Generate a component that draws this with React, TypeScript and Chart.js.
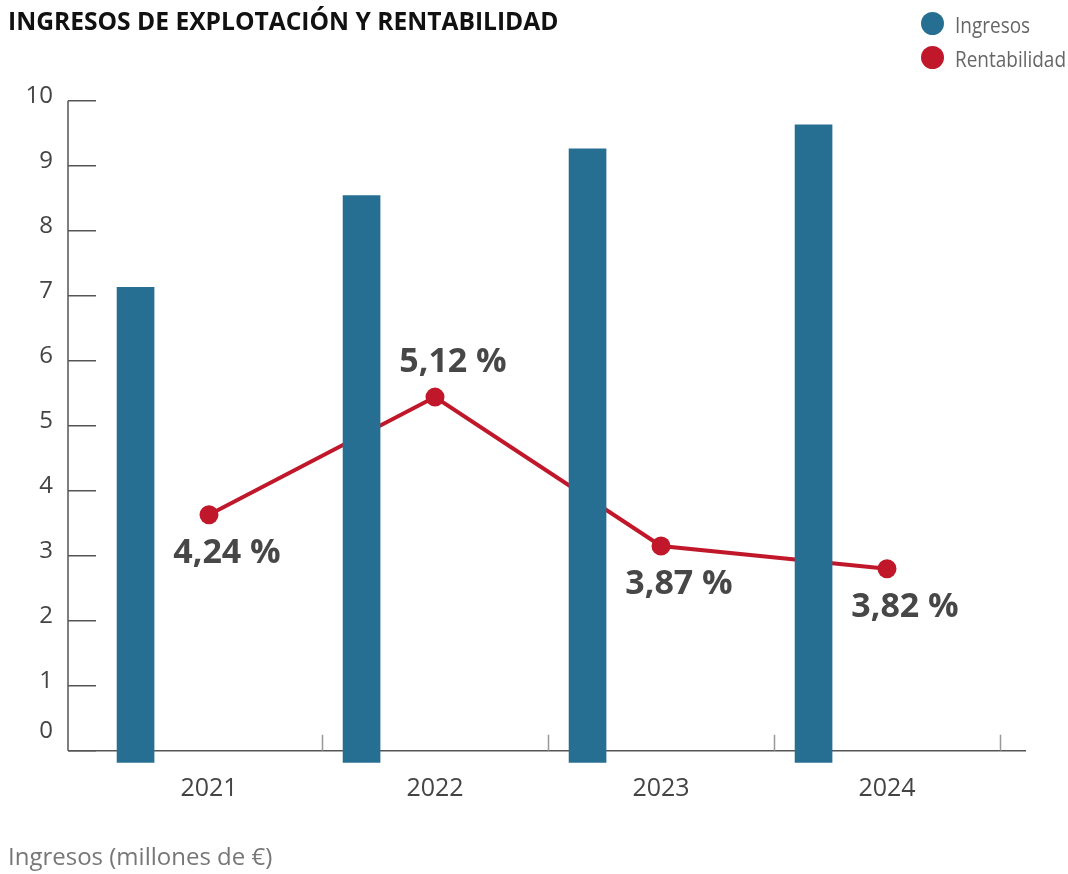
import { useEffect, useRef } from 'react';
import { Chart, registerables } from 'chart.js';

Chart.register(...registerables);

const years = ['2021', '2022', '2023', '2024'];
const ingresos = [7.13, 8.54, 9.26, 9.63];
const rentabilidadPos = [3.63, 5.44, 3.15, 2.8];
const rentabilidadLabels = ['4,24 %', '5,12 %', '3,87 %', '3,82 %'];
const yMin = 0;
const yMax = 10;

const TITLE = 'INGRESOS DE EXPLOTACIÓN Y RENTABILIDAD';
const FOOTNOTE = 'Ingresos (millones de €)';
const LEGEND = ['Ingresos', 'Rentabilidad'];

const BLUE = '#276f92';
const RED = '#c0182a';
const FONT = '"Open Sans", sans-serif';
const BAR_SHIFT = 0.325;

export default function App() {
  const ref = useRef<HTMLCanvasElement>(null);

  useEffect(() => {
    const decor = {
      id: 'decor',
      beforeDatasetsDraw(chart: any) {
        const { ctx, chartArea, scales } = chart;
        const ys = scales.y;
        const y0 = ys.getPixelForValue(0);
        const yTop = ys.getPixelForValue(yMax);
        const left = chartArea.left - 28;
        const right = chartArea.right + 26;
        ctx.save();
        ctx.strokeStyle = '#555';
        ctx.lineWidth = 1.5;
        ctx.beginPath();
        ctx.moveTo(left, yTop);
        ctx.lineTo(left, y0);
        ctx.moveTo(left, y0);
        ctx.lineTo(right, y0);
        ctx.stroke();
        const w = (chartArea.right - chartArea.left) / years.length;
        ctx.strokeStyle = '#999';
        ctx.beginPath();
        for (let i = 1; i <= years.length; i++) {
          const x = Math.round(chartArea.left + i * w) + 0.5;
          ctx.moveTo(x, y0 - 16);
          ctx.lineTo(x, y0);
        }
        ctx.stroke();
        ctx.restore();
      },
      afterDatasetsDraw(chart: any) {
        const { ctx } = chart;
        const meta = chart.getDatasetMeta(1);
        ctx.save();
        ctx.font = `700 34px ${FONT}`;
        ctx.fillStyle = '#474747';
        ctx.textAlign = 'center';
        ctx.textBaseline = 'alphabetic';
        meta.data.forEach((pt: any, i: number) => {
          const v = rentabilidadPos[i];
          const prev = i > 0 ? rentabilidadPos[i - 1] : -Infinity;
          const next = i < rentabilidadPos.length - 1 ? rentabilidadPos[i + 1] : -Infinity;
          const above = v > prev && v > next;
          const cy = above ? pt.y - 37 : pt.y + 36;
          ctx.fillText(rentabilidadLabels[i], pt.x + 18, cy + 12);
        });
        ctx.restore();
      },
      afterDraw(chart: any) {
        const { ctx } = chart;
        ctx.save();
        ctx.textBaseline = 'alphabetic';
        ctx.textAlign = 'left';
        ctx.font = `700 24.6px ${FONT}`;
        ctx.fillStyle = '#111';
        ctx.fillText(TITLE, 8, 30);

        ctx.font = `21px ${FONT}`;
        const colors = [BLUE, RED];
        const cys = [23.5, 57.5];
        const squeeze = 111 / ctx.measureText(LEGEND[1]).width;
        LEGEND.forEach((t, i) => {
          ctx.fillStyle = colors[i];
          ctx.beginPath();
          ctx.arc(932.5, cys[i], 11.5, 0, Math.PI * 2);
          ctx.fill();
          ctx.fillStyle = '#666';
          ctx.save();
          ctx.translate(955, cys[i] + 9);
          ctx.scale(squeeze, 1);
          ctx.fillText(t, 0, 0);
          ctx.restore();
        });

        ctx.font = `24px ${FONT}`;
        ctx.fillStyle = '#777';
        ctx.fillText(FOOTNOTE, 8, 865);
        ctx.restore();
      },
    };

    const xbMin = -0.5 + BAR_SHIFT;
    const xbMax = years.length - 0.5 + BAR_SHIFT;

    const chart = new Chart(ref.current as HTMLCanvasElement, {
      type: 'bar',
      data: {
        labels: years,
        datasets: [
          {
            type: 'bar',
            label: LEGEND[0],
            data: ingresos.map((v, i) => ({ x: i, y: v })) as any,
            xAxisID: 'xb',
            yAxisID: 'y',
            backgroundColor: BLUE,
            barThickness: 37,
            grouped: false,
            base: -0.18,
            clip: false as any,
            order: 0,
          } as any,
          {
            type: 'line',
            label: LEGEND[1],
            data: rentabilidadPos,
            xAxisID: 'x',
            yAxisID: 'y',
            borderColor: RED,
            backgroundColor: RED,
            borderWidth: 4,
            pointRadius: 9.5,
            pointBorderWidth: 0,
            pointBackgroundColor: RED,
            clip: false as any,
            order: 1,
          } as any,
        ],
      },
      options: {
        responsive: false,
        animation: false,
        layout: { padding: { left: 0, right: 68, top: 100.7, bottom: 63.3 } },
        plugins: {
          legend: { display: false },
          tooltip: { enabled: false },
        },
        scales: {
          x: {
            type: 'category',
            offset: true,
            grid: { display: false },
            border: { display: false },
            ticks: { color: '#444', font: { family: FONT, size: 25 }, padding: 15, maxRotation: 0 },
            afterFit: (s: any) => {
              s.height = 60;
            },
          },
          xb: {
            type: 'linear',
            display: false,
            offset: false,
            bounds: 'data',
            grid: { offset: false },
            min: xbMin,
            max: xbMax,
            afterBuildTicks: (s: any) => {
              s.min = xbMin;
              s.max = xbMax;
            },
          },
          y: {
            min: yMin,
            max: yMax,
            border: { display: false },
            grid: { drawOnChartArea: false, drawTicks: true, tickLength: 28, color: '#555', lineWidth: 1.5 },
            ticks: {
              stepSize: 1,
              color: '#444',
              font: { family: FONT, size: 24 },
              padding: 15,
              labelOffset: -5,
              callback: (v: any) => (Number(v) === 0 ? ['0', ''] : String(v)),
            },
            afterFit: (s: any) => {
              s.width = 96;
            },
          },
        },
      } as any,
      plugins: [decor],
    });
    return () => chart.destroy();
  }, []);

  return (
    <div style={{ position: 'fixed', left: 0, top: 0, width: 1068, height: 874, background: '#fff' }}>
      <canvas ref={ref} width={1068} height={874} style={{ display: 'block' }} />
    </div>
  );
}
